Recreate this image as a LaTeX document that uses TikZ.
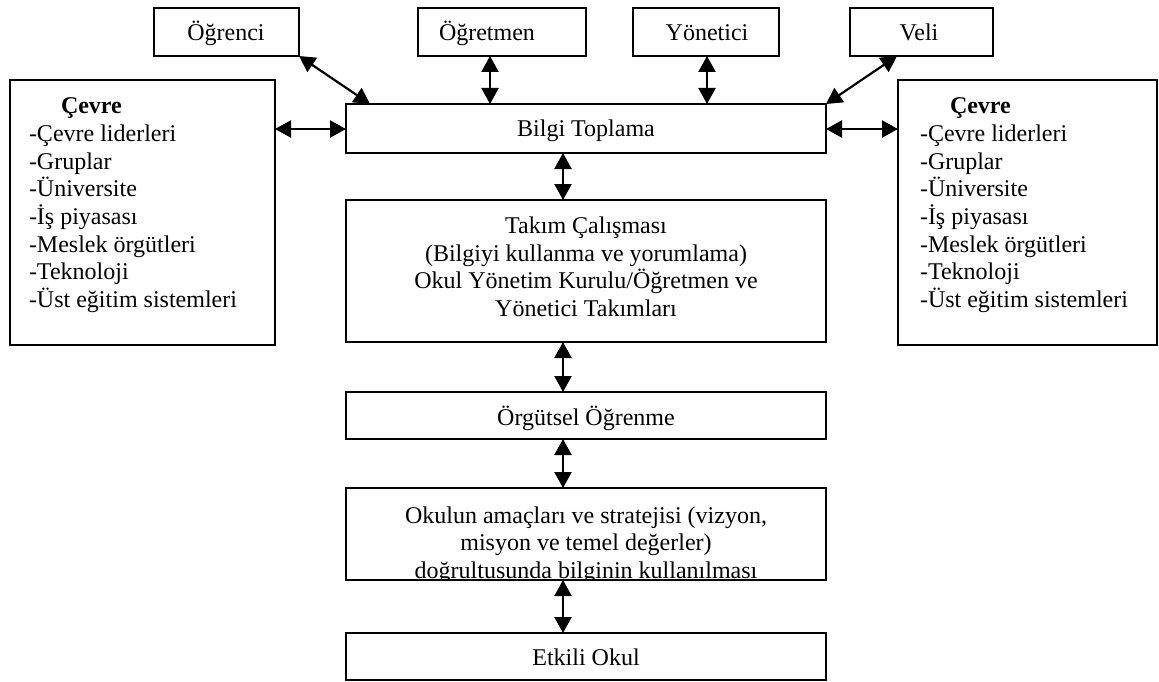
\documentclass[tikz,border=0pt]{standalone}
\usepackage{fontspec}
\setmainfont{Liberation Serif}
\usetikzlibrary{arrows.meta,calc}
\begin{document}
\begin{tikzpicture}[x=1pt,y=-1pt,
  box/.style={draw, line width=1.4pt, inner sep=0pt, outer sep=0pt},
  txt/.style={inner sep=0pt, outer sep=0pt, anchor=base, font=\fontsize{24}{27.6}\selectfont},
  ltxt/.style={txt, anchor=base west},
  link/.style={line width=2.2pt, {Triangle[length=16pt,width=17pt]}-{Triangle[length=16pt,width=17pt]}}]
\useasboundingbox (0,0) rectangle (1159,682);

% boxes
\node[box, minimum width=145pt, minimum height=48pt] (ogrenci) at (226.5,32) {};
\node[box, minimum width=168pt, minimum height=48pt] (ogretmen) at (502,32) {};
\node[box, minimum width=146pt, minimum height=48pt] (yonetici) at (706,32) {};
\node[box, minimum width=143pt, minimum height=48pt] (veli) at (921.5,32) {};
\node[box, minimum width=265pt, minimum height=265pt] (cevreL) at (142.5,212.5) {};
\node[box, minimum width=259pt, minimum height=265pt] (cevreR) at (1027.5,212.5) {};
\node[box, minimum width=480pt, minimum height=49pt] (bilgi) at (586,128.5) {};
\node[box, minimum width=480pt, minimum height=142pt] (takim) at (586,271) {};
\node[box, minimum width=480pt, minimum height=47pt] (orgutsel) at (586,415.5) {};
\node[box, minimum width=480pt, minimum height=92pt] (okul) at (586,534) {};
\node[box, minimum width=480pt, minimum height=47pt] (etkili) at (586,656.5) {};

% texts
\node[txt] (t1) at (226,41) {Öğrenci};
\node[ltxt] (t2) at (439,41) {Öğretmen};
\node[txt] (t3) at (707,41) {Yönetici};
\node[txt] (t4) at (919,41) {Veli};
\node[txt] (t5) at (586,137) {Bilgi Toplama};
\node[txt] (t6a) at (586,233.5) {Takım Çalışması};
\node[txt] (t6b) at (586,261.1) {(Bilgiyi kullanma ve yorumlama)};
\node[txt] (t6c) at (586,288.7) {Okul Yönetim Kurulu/Öğretmen ve};
\node[txt] (t6d) at (586,316.3) {Yönetici Takımları};
\node[txt] (t7) at (586,425) {Örgütsel Öğrenme};
\begin{scope}
  \clip (okul.north west) rectangle (okul.south east);
  \node[txt] (t8a) at (586,523) {Okulun amaçları ve stratejisi (vizyon,};
  \node[txt] (t8b) at (586,550.6) {misyon ve temel değerler)};
  \node[txt] (t8c) at (586,578.6) {doğrultusunda bilginin kullanılması};
\end{scope}
\node[txt] (t9) at (586,665) {Etkili Okul};

\node[ltxt, font=\fontsize{24}{27.6}\selectfont\bfseries] (hL) at (61,114) {Çevre};
\node[ltxt, font=\fontsize{24}{27.6}\selectfont\bfseries] (hR) at (950,114) {Çevre};
\foreach \t [count=\i from 0] in {-Çevre liderleri,-Gruplar,-Üniversite,-İş piyasası,-Meslek örgütleri,-Teknoloji,-Üst eğitim sistemleri}{
  \node[ltxt] (cl\i) at (29,141.6+27.6*\i) {\t};
  \node[ltxt] (cr\i) at (920,141.6+27.6*\i) {\t};
}

% connector helpers
\coordinate (xa) at (490,0);
\coordinate (xb) at (707,0);
\coordinate (xm) at (563,0);
\coordinate (yh) at (0,129);
\coordinate (pa) at ($(bilgi.north west)+(24,0)$);
\coordinate (pv) at ($(veli.south west)+(47,0)$);

% connectors
\draw[link] (ogrenci.south east) -- (pa);
\draw[link] (xa |- ogretmen.south) -- (xa |- bilgi.north);
\draw[link] (xb |- yonetici.south) -- (xb |- bilgi.north);
\draw[link] (pv) -- (bilgi.north east);
\draw[link] (yh -| cevreL.east) -- (yh -| bilgi.west);
\draw[link] (yh -| bilgi.east) -- (yh -| cevreR.west);
\draw[link] (xm |- bilgi.south) -- (xm |- takim.north);
\draw[link] (xm |- takim.south) -- (xm |- orgutsel.north);
\draw[link] (xm |- orgutsel.south) -- (xm |- okul.north);
\draw[link] (xm |- okul.south) -- (xm |- etkili.north);
\end{tikzpicture}
\end{document}
